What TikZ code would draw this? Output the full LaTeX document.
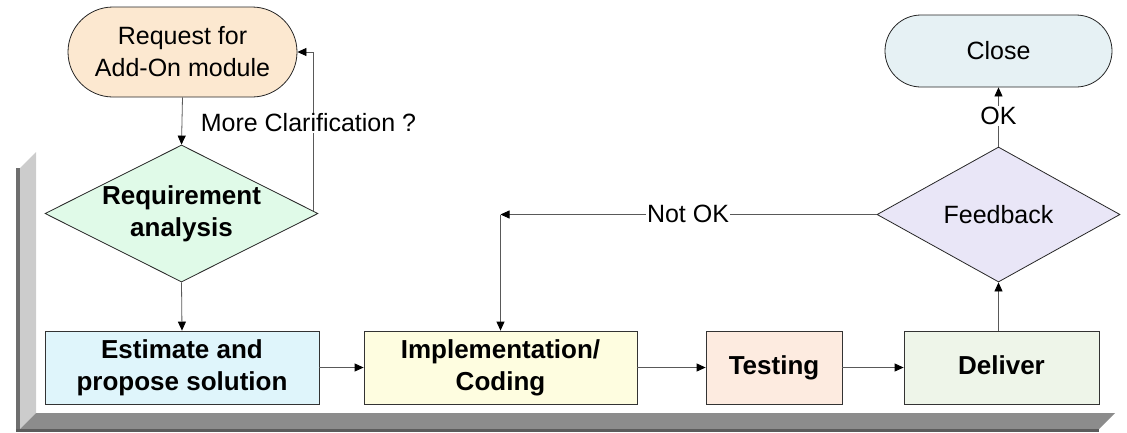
\documentclass[tikz,border=0pt]{standalone}
\usepackage{fontspec}
\setmainfont{Liberation Sans}
\usetikzlibrary{shapes.geometric,shapes.misc,arrows.meta,calc}
\definecolor{reqfill}{HTML}{FCE8D0}
\definecolor{closefill}{HTML}{E6F1F4}
\definecolor{rafill}{HTML}{E0FAE8}
\definecolor{fbfill}{HTML}{E9E6F7}
\definecolor{estfill}{HTML}{DFF5FB}
\definecolor{implfill}{HTML}{FEFDE0}
\definecolor{testfill}{HTML}{FDEBE0}
\definecolor{delfill}{HTML}{EEF5E9}
\definecolor{framelight}{HTML}{CCCCCC}
\definecolor{framedark}{HTML}{6E6E6E}
\definecolor{framemid}{HTML}{8C8C8C}
\definecolor{framebot}{HTML}{5C5C5C}
\begin{document}
\begin{tikzpicture}[x=1pt,y=-1pt,
  txt/.style={font=\fontsize{25}{32}\selectfont, align=center},
  boldtxt/.style={font=\fontsize{26}{32}\selectfont\bfseries},
  box/.style={rectangle, draw=black!80, line width=0.8pt, inner sep=0pt, minimum height=73pt, align=center, boldtxt},
  term/.style={txt, rounded rectangle, draw=black!85, line width=0.8pt, inner sep=0pt},
  dia/.style={txt, diamond, aspect=2, draw=black!85, line width=0.8pt, inner sep=0pt},
  conn/.style={draw=black!65, line width=0.8pt, -{Triangle[length=9pt,width=8pt,color=black]}},
  lbl/.style={txt, fill=white, inner sep=1pt},
  oneline/.style={text height=19pt, text depth=5pt}
]
\useasboundingbox (0,0) rectangle (1127,432);
% frame
\fill[framelight] (20,168) -- (36,152) -- (36,413) -- (20,429) -- cycle;
\fill[framedark] (16,168) -- (20,168) -- (20,431) -- (16,431) -- cycle;
\fill[framemid] (36,413) -- (1115,413) -- (1099,429) -- (20,429) -- cycle;
\fill[framebot] (16,429) rectangle (1099,432);
% nodes
\node[term, fill=reqfill, minimum width=229pt, minimum height=90pt] (req) at (182.5,52) {Request for\\Add-On module};
\node[dia, fill=rafill, minimum width=273pt, minimum height=137pt, boldtxt] (ra) at (181.5,213.5) {Requirement\\analysis};
\node[box, fill=estfill, minimum width=274pt] (est) at (182,367.5) {Estimate and\\propose solution};
\node[box, fill=implfill, minimum width=273pt] (impl) at (500.5,367.5) {Implementation/\\Coding};
\node[box, oneline, fill=testfill, minimum width=136pt] (test) at (774,367.5) {Testing};
\node[box, oneline, fill=delfill, minimum width=195pt] (del) at (1001.5,367.5) {Deliver};
\node[dia, fill=fbfill, minimum width=243pt, minimum height=135pt] (fb) at (998.5,214.5) {Feedback};
\node[term, fill=closefill, minimum width=227pt, minimum height=72pt] (close) at (998.5,51) {Close};
% connectors
\draw[conn] (req.south) -- (ra.north);
\draw[conn] (ra.south) -- (est.north);
\draw[conn] ($(ra.east)!0.037!(ra.north)$) |- (req.east);
\node[lbl] (clar) at (308.5,123) {More Clarification ?};
\draw[conn] (est.east) -- (impl.west);
\draw[conn] (impl.east) -- (test.west);
\draw[conn] (test.east) -- (del.west);
\draw[conn] (del.north -| fb.south) -- (fb.south);
\draw[conn] (fb.north) -- (close.south);
\node[lbl] (ok) at (998.5,116) {OK};
\coordinate (corner) at (impl.north |- fb.west);
\draw[conn] (fb.west) -- (corner);
\draw[conn] (corner) -- (impl.north);
\node[lbl] (notok) at (688,214) {Not OK};
\end{tikzpicture}
\end{document}
